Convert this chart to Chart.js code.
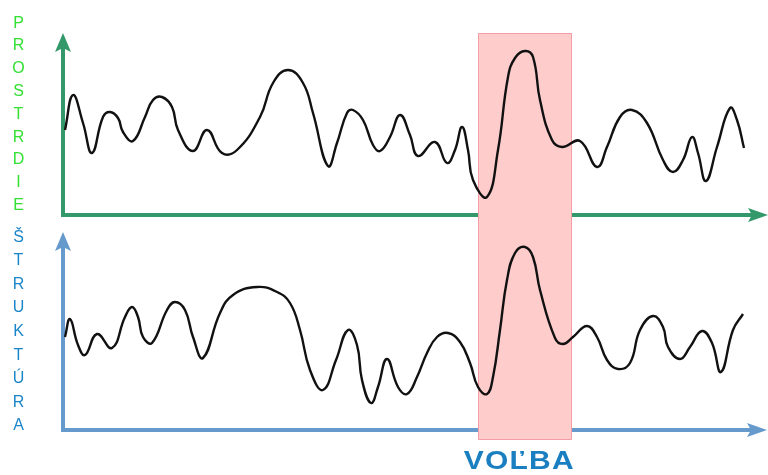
<!DOCTYPE html>
<html>
<head>
<meta charset="utf-8">
<script src="https://cdn.jsdelivr.net/npm/chart.js@4/dist/chart.umd.min.js"></script>
<style>
  html, body { margin: 0; padding: 0; background: #fff; }
  #wrap { position: relative; width: 768px; height: 475px; overflow: hidden; font-family: "Liberation Sans", Arial, sans-serif; }
  canvas { position: absolute; left: 0; }
  #envCanvas { top: 0; }
  #strCanvas { top: 224px; }
  .vlabel { position: absolute; left: 9px; width: 19px; text-align: center; font-size: 16px; }
  #envLabel { top: 11.6px; color: #33e033; line-height: 22.8px; }
  #strLabel { top: 224.6px; color: #1a85c8; line-height: 23.6px; }
  #choice { position: absolute; left: 419px; top: 445px; width: 200px; text-align: center; font-size: 25px; line-height: 30px; font-weight: bold; color: #1a7fc1; }
  #choice span { display: inline-block; transform: scaleX(1.2); letter-spacing: 1px; }
</style>
</head>
<body>
<div id="wrap">
  <canvas id="envCanvas" width="768" height="224"></canvas>
  <canvas id="strCanvas" width="768" height="251"></canvas>
  <div class="vlabel" id="envLabel"></div>
  <div class="vlabel" id="strLabel"></div>
  <div id="choice"><span></span></div>
</div>
<script>
// Labels
const envName = 'PROSTRDIE';
const strName = 'ŠTRUKTÚRA';
const choiceName = 'VOĽBA';

// Shared horizontal axis (0 = origin, 705 = arrow tip)
const axisMax = 705;
// Highlighted window on the x axis
const choiceWindow = [415, 508];

// Upper curve (prostredie): x positions and heights above the axis
const envX = [2, 10, 20, 29, 40, 47, 55, 60, 70, 82, 90, 99, 109, 115, 130, 144, 159, 174, 197, 210, 225, 240, 250,
  265, 274, 284, 290, 300, 310, 317, 327, 337, 347, 355, 372, 384, 392, 399, 405, 410, 424, 435, 445, 452, 462, 470,
  477, 489, 499, 517, 534, 544, 557, 569, 584, 600, 610, 620, 629, 635, 643, 654, 667, 674, 681];
const envY = [85, 120, 92, 62, 98, 103, 97, 83, 74, 98, 115, 118, 108, 85, 64, 85, 62, 65, 98, 132, 145, 132, 102,
  49, 72, 102, 105, 95, 70, 64, 78, 100, 80, 59, 73, 52, 65, 88, 65, 35, 18, 65, 138, 157, 164, 158,
  115, 75, 68, 74, 48, 68, 98, 105, 92, 55, 43, 55, 78, 62, 34, 68, 107, 95, 67];
const envMax = 182;

// Lower curve (struktura)
const strX = [2, 7, 15, 22, 34, 49, 62, 69, 75, 80, 89, 104, 112, 122, 130, 140, 157, 170, 194, 214, 227, 237, 247,
  260, 273, 285, 294, 299, 308, 315, 324, 335, 344, 354, 364, 374, 385, 397, 407, 415, 424, 430, 437, 444, 452, 462,
  470, 477, 492, 500, 510, 524, 534, 544, 555, 567, 577, 590, 600, 605, 617, 627, 639, 649, 658, 670, 680];
const strY = [93, 111, 85, 75, 96, 82, 113, 123, 113, 93, 87, 120, 128, 120, 93, 72, 117, 135, 143, 138, 127, 100, 60,
  40, 70, 100, 85, 50, 27, 43, 71, 43, 36, 53, 77, 93, 97, 88, 67, 43, 36, 53, 100, 150, 177, 183,
  173, 140, 92, 86, 93, 104, 93, 70, 61, 67, 100, 114, 103, 83, 71, 83, 99, 87, 58, 100, 116];
const strMax = 198;

function fillLetters(id, text) {
  const box = document.getElementById(id);
  for (const ch of text) {
    const d = document.createElement('div');
    d.textContent = ch;
    box.appendChild(d);
  }
}
fillLetters('envLabel', envName);
fillLetters('strLabel', strName);
document.querySelector('#choice span').textContent = choiceName;

// Draws axes with arrowheads and the highlight band behind the curve
const panelDecor = {
  id: 'panelDecor',
  beforeDatasetsDraw(chart, args, opts) {
    const { ctx, chartArea: a, scales: { x } } = chart;
    const tip = a.right - opts.tipInset;
    ctx.save();

    // axis lines
    ctx.strokeStyle = opts.axisColor;
    ctx.fillStyle = opts.axisColor;
    ctx.lineWidth = 4;
    ctx.beginPath();
    ctx.moveTo(a.left, a.top + 14);
    ctx.lineTo(a.left, a.bottom);
    ctx.lineTo(tip - 16, a.bottom);
    ctx.stroke();

    // y arrow
    ctx.beginPath();
    ctx.moveTo(a.left, a.top);
    ctx.lineTo(a.left - 8, a.top + 19);
    ctx.lineTo(a.left, a.top + 15);
    ctx.lineTo(a.left + 8, a.top + 19);
    ctx.closePath();
    ctx.fill();

    // x arrow
    ctx.beginPath();
    ctx.moveTo(tip, a.bottom);
    ctx.lineTo(tip - 20, a.bottom - 7);
    ctx.lineTo(tip - 16, a.bottom);
    ctx.lineTo(tip - 20, a.bottom + 7);
    ctx.closePath();
    ctx.fill();

    // highlight band
    const x0 = Math.round(x.getPixelForValue(choiceWindow[0])) + 0.5;
    const x1 = Math.round(x.getPixelForValue(choiceWindow[1])) + 0.5;
    ctx.fillStyle = '#ffcccc';
    ctx.fillRect(x0, opts.bandTop, x1 - x0, opts.bandBottom - opts.bandTop);
    ctx.strokeStyle = '#f59da6';
    ctx.lineWidth = 1;
    ctx.beginPath();
    if (opts.closeTop) {
      ctx.moveTo(x0, opts.bandBottom);
      ctx.lineTo(x0, opts.bandTop + 0.5);
      ctx.lineTo(x1, opts.bandTop + 0.5);
      ctx.lineTo(x1, opts.bandBottom);
    } else {
      ctx.moveTo(x0, opts.bandTop);
      ctx.lineTo(x0, opts.bandBottom - 0.5);
      ctx.lineTo(x1, opts.bandBottom - 0.5);
      ctx.lineTo(x1, opts.bandTop);
    }
    ctx.stroke();
    ctx.restore();
  }
};

function makePanel(canvasId, xs, ys, yMax, padding, decor) {
  const ctx = document.getElementById(canvasId).getContext('2d');
  return new Chart(ctx, {
    type: 'line',
    data: {
      datasets: [{
        data: xs.map((v, i) => ({ x: v, y: ys[i] })),
        borderColor: '#111111',
        borderWidth: 2.4,
        pointRadius: 0,
        tension: 0.45,
        fill: false
      }]
    },
    options: {
      responsive: false,
      animation: false,
      devicePixelRatio: 1,
      events: [],
      layout: { padding: padding },
      plugins: {
        legend: { display: false },
        tooltip: { enabled: false },
        panelDecor: decor
      },
      scales: {
        x: { type: 'linear', display: false, min: 0, max: axisMax },
        y: { type: 'linear', display: false, min: 0, max: yMax }
      }
    },
    plugins: [panelDecor]
  });
}

makePanel('envCanvas', envX, envY, envMax,
  { left: 63, top: 33, right: 0, bottom: 9 },
  { axisColor: '#33996a', bandTop: 33, bandBottom: 224, closeTop: true, tipInset: 0 });

makePanel('strCanvas', strX, strY, strMax,
  { left: 63, top: 8, right: 0, bottom: 45 },
  { axisColor: '#6699cc', bandTop: 0, bandBottom: 216, closeTop: false, tipInset: 1 });
</script>
</body>
</html>
